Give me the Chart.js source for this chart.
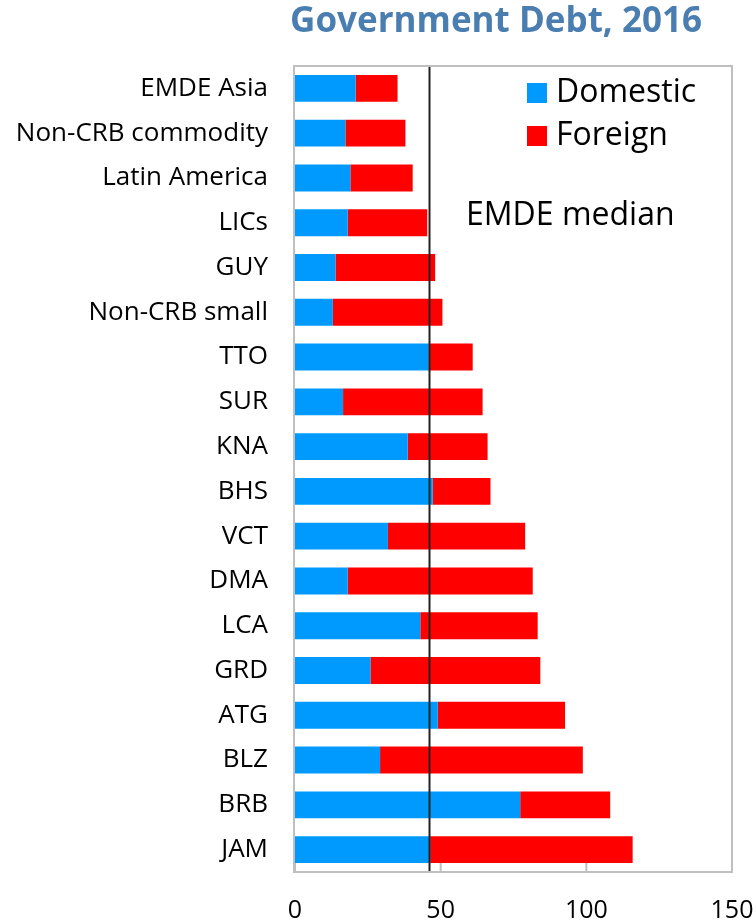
<!DOCTYPE html>
<html>
<head>
<meta charset="utf-8">
<script src="https://cdn.jsdelivr.net/npm/chart.js@4.4.1/dist/chart.umd.min.js"></script>
<style>
  html, body { margin: 0; padding: 0; background: #fff; }
  #wrap { width: 756px; height: 924px; }
</style>
</head>
<body>
<div id="wrap"><canvas id="grafico" width="756" height="924"></canvas></div>
<script>
const categorias = ["EMDE Asia", "Non-CRB commodity", "Latin America", "LICs", "GUY", "Non-CRB small",
    "TTO", "SUR", "KNA", "BHS", "VCT", "DMA", "LCA", "GRD", "ATG", "BLZ", "BRB", "JAM"];
const domestica = [20.8, 17.3, 19.0, 18.1, 13.9, 13.0, 45.8, 16.5, 38.7, 47.3, 31.9, 18.1, 43.0, 25.9, 49.0, 29.2, 77.3, 46.4];
const externa = [14.4, 20.6, 21.4, 27.3, 34.2, 37.6, 15.2, 47.9, 27.4, 19.8, 47.1, 63.5, 40.3, 58.3, 43.7, 69.6, 30.9, 69.5];
const ticksX = [0, 50, 100, 150];
const medianaEMDE = 46;

const fuente = "'Open Sans', 'Noto Sans', sans-serif";

// --- Marco, ticks internos, mediana y leyenda ---
const extras = {
    id: "extras",
    afterDatasetsDraw(chart) {
        const { ctx, chartArea: a, scales } = chart;
        const x = scales.x;
        ctx.save();

        // linea de la mediana
        const xm = Math.round(x.getPixelForValue(medianaEMDE)) + 0.5;
        ctx.strokeStyle = "#222";
        ctx.lineWidth = 2;
        ctx.beginPath();
        ctx.moveTo(xm, a.top);
        ctx.lineTo(xm, a.bottom);
        ctx.stroke();

        // marco gris
        ctx.strokeStyle = "#BFBFBF";
        ctx.lineWidth = 2;
        ctx.strokeRect(a.left - 1, a.top, a.right - a.left + 1, a.bottom - a.top);

        // ticks hacia dentro
        ctx.beginPath();
        ticksX.forEach(v => {
            const px = x.getPixelForValue(v);
            ctx.moveTo(px, a.bottom);
            ctx.lineTo(px, a.bottom - 9);
        });
        ctx.stroke();

        // leyenda
        ctx.font = "32px " + fuente;
        ctx.textBaseline = "middle";
        ctx.textAlign = "left";
        chart.data.datasets.forEach((ds, i) => {
            const y = 93 + i * 43;
            ctx.fillStyle = ds.backgroundColor;
            ctx.fillRect(527, y - 10, 20, 20);
            ctx.fillStyle = "#000";
            ctx.fillText(ds.label, 556, y);
        });
        ctx.fillText("EMDE median", 466, 216);

        // titulo
        ctx.font = "bold 35px " + fuente;
        ctx.fillStyle = "#4A7EB0";
        ctx.textAlign = "center";
        ctx.fillText("Government Debt, 2016", 496, 22);
        ctx.restore();
    }
};

new Chart(document.getElementById("grafico").getContext("2d"), {
    type: "bar",
    data: {
        labels: categorias,
        datasets: [
            { label: "Domestic", data: domestica, backgroundColor: "#009AFF" },
            { label: "Foreign", data: externa, backgroundColor: "#FF0000" }
        ]
    },
    options: {
        indexAxis: "y",
        responsive: false,
        animation: false,
        layout: { padding: { top: 66, right: 24, left: 0, bottom: 0 } },
        datasets: { bar: { categoryPercentage: 0.6, barPercentage: 1, borderWidth: 0 } },
        plugins: {
            legend: { display: false },
            tooltip: { enabled: false }
        },
        scales: {
            x: {
                stacked: true,
                min: 0,
                max: 150,
                afterBuildTicks: s => { s.ticks = ticksX.map(v => ({ value: v })); },
                afterFit: s => { s.height = 52; s.paddingRight = 0; s.paddingLeft = 0; },
                grid: { display: false, drawTicks: false },
                border: { display: false },
                ticks: { padding: 24, color: "#000", font: { family: fuente, size: 25 } }
            },
            y: {
                stacked: true,
                afterFit: s => { s.width = 295; s.paddingTop = 0; s.paddingBottom = 0; },
                grid: { display: false, drawTicks: false },
                border: { display: false },
                ticks: { padding: 27, color: "#000", font: { family: fuente, size: 26 } }
            }
        }
    },
    plugins: [extras]
});
</script>
</body>
</html>
